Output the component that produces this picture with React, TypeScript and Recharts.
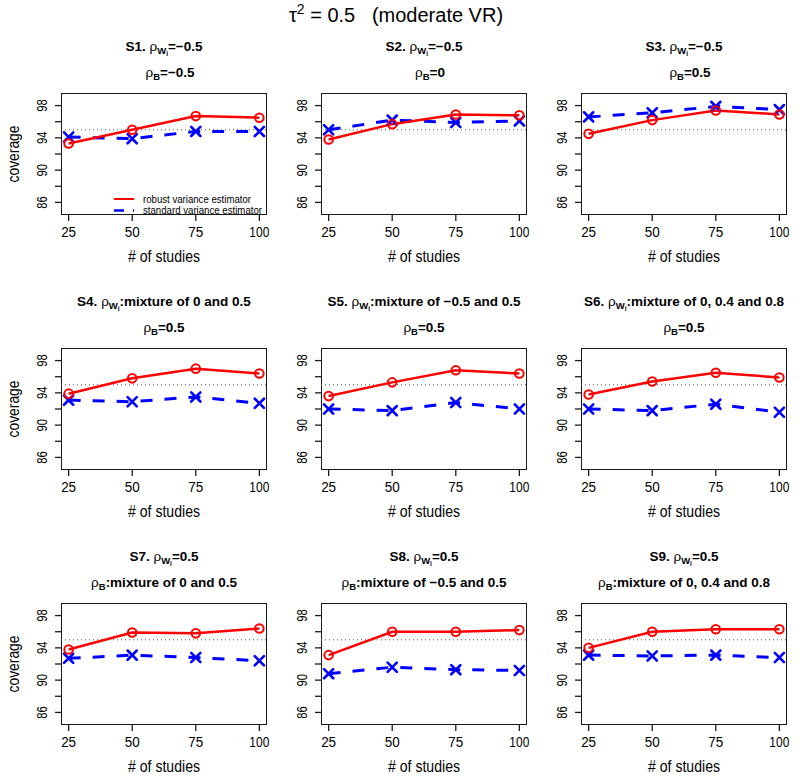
import React from 'react';
import { LineChart, Line, XAxis, YAxis, ReferenceLine } from 'recharts';

// x values (number of studies) and y tick marks
const studies = [25, 50, 75, 100];
const yTicks = [86, 88, 90, 92, 94, 96, 98];
const yLabels = [86, 90, 94, 98];
const nominal = 95;

// coverage (%), one pair of arrays per scenario
const robustS1 = [93.3, 95.0, 96.7, 96.5];
const standardS1 = [94.1, 93.9, 94.8, 94.8];
const robustS2 = [93.8, 95.7, 96.9, 96.8];
const standardS2 = [95.0, 96.2, 95.9, 96.1];
const robustS3 = [94.5, 96.2, 97.4, 96.9];
const standardS3 = [96.6, 97.1, 97.9, 97.5];
const robustS4 = [93.9, 95.8, 97.0, 96.4];
const standardS4 = [93.1, 92.9, 93.5, 92.7];
const robustS5 = [93.6, 95.3, 96.8, 96.4];
const standardS5 = [92.0, 91.8, 92.8, 92.0];
const robustS6 = [93.8, 95.4, 96.5, 95.9];
const standardS6 = [92.0, 91.8, 92.6, 91.6];
const robustS7 = [93.8, 95.9, 95.8, 96.4];
const standardS7 = [92.7, 93.1, 92.8, 92.4];
const robustS8 = [93.1, 96.0, 96.0, 96.2];
const standardS8 = [90.8, 91.6, 91.3, 91.2];
const robustS9 = [94.0, 96.0, 96.3, 96.3];
const standardS9 = [93.1, 93.0, 93.1, 92.8];

// panel titles
const withinText = ['=−0.5', '=−0.5', '=−0.5', ':mixture of 0 and 0.5', ':mixture of −0.5 and 0.5',
  ':mixture of 0, 0.4 and 0.8', '=0.5', '=0.5', '=0.5'];
const betweenText = ['=−0.5', '=0', '=0.5', '=0.5', '=0.5', '=0.5', ':mixture of 0 and 0.5',
  ':mixture of −0.5 and 0.5', ':mixture of 0, 0.4 and 0.8'];

const robustAll = [robustS1, robustS2, robustS3, robustS4, robustS5, robustS6, robustS7, robustS8, robustS9];
const standardAll = [standardS1, standardS2, standardS3, standardS4, standardS5, standardS6, standardS7, standardS8, standardS9];

const COL_LEFT = [61, 321, 581];
const ROW_TOP = [93, 348, 603];
const PW = 206;
const PH = 122;
const X_DOMAIN = [22, 103];
const Y_DOMAIN = [84.44, 99.56];
const TICK = 6;

const SANS = '"Liberation Sans", Arial, Helvetica, sans-serif';
const RED = '#ff0000';
const BLUE = '#0000ff';
const INK = '#1a1a1a';

// x tick: mark + label (x, y is the outer end of the tick)
const XTick = (props: any) => {
  const { x, y, payload } = props;
  const s = String(payload.value);
  return (
    <g>
      <path d={`M${x},${y - TICK}V${y}`} stroke={INK} strokeWidth={1.3} />
      <text x={x} y={y + 16} textAnchor="middle" fontFamily={SANS} fontSize={15} fill="#000"
        textLength={s.length > 2 ? 20 : 15} lengthAdjust="spacingAndGlyphs">
        {s}
      </text>
    </g>
  );
};

// y tick: mark for every tick, rotated label for every other one
const YTick = (props: any) => {
  const { x, y, payload } = props;
  return (
    <g>
      <path d={`M${x},${y}H${x + TICK}`} stroke={INK} strokeWidth={1.3} />
      {yLabels.includes(payload.value) && (
        <g transform={`translate(${x - 8}, ${y}) rotate(-90)`}>
          <text x={0} y={0} textAnchor="middle" fontFamily={SANS} fontSize={15} fill="#000"
            textLength={12.5} lengthAdjust="spacingAndGlyphs">
            {payload.value}
          </text>
        </g>
      )}
    </g>
  );
};

const CircleDot = (props: any) => {
  const { cx, cy, index } = props;
  if (cx == null || cy == null) return <g key={index} />;
  return <circle key={index} cx={cx} cy={cy} r={4.3} fill="none" stroke={RED} strokeWidth={2} />;
};

const CrossDot = (props: any) => {
  const { cx, cy, index } = props;
  if (cx == null || cy == null) return <g key={index} />;
  const s = 4.6;
  return (
    <g key={index} stroke={BLUE} strokeWidth={2.6} strokeLinecap="round">
      <line x1={cx - s} y1={cy - s} x2={cx + s} y2={cy + s} />
      <line x1={cx - s} y1={cy + s} x2={cx + s} y2={cy - s} />
    </g>
  );
};

function Panel({ idx }: { idx: number }) {
  const col = idx % 3;
  const row = Math.floor(idx / 3);
  const left = COL_LEFT[col];
  const top = ROW_TOP[row];
  const data = studies.map((s, i) => ({ studies: s, robust: robustAll[idx][i], standard: standardAll[idx][i] }));
  return (
    <div style={{ position: 'absolute', left: left - 45, top: top - 10 }}>
      {/* plot frame */}
      <div style={{ position: 'absolute', left: 45 - 0.5, top: 10 - 0.5, width: PW, height: PH,
        border: `1.5px solid ${INK}`, boxSizing: 'border-box', pointerEvents: 'none' }} />
      <LineChart width={45 + PW + 15} height={10 + PH + 40} data={data}
        margin={{ top: 10, right: 15, left: 0, bottom: 0 }} style={{ overflow: 'visible' }}>
        <XAxis type="number" dataKey="studies" domain={X_DOMAIN} ticks={studies} allowDataOverflow
          axisLine={false} tickSize={TICK} tickMargin={0} tickLine={false} tick={<XTick />}
          height={40} interval={0} />
        <YAxis type="number" domain={Y_DOMAIN} ticks={yTicks} allowDataOverflow axisLine={false}
          tickSize={TICK} tickMargin={0} tickLine={false} tick={<YTick />} width={45} interval={0} />
        <ReferenceLine y={nominal} stroke="#555" strokeWidth={1} strokeDasharray="1 3" />
        <Line type="linear" dataKey="standard" stroke={BLUE} strokeWidth={3} strokeDasharray="12 12"
          dot={CrossDot} activeDot={false} isAnimationActive={false} />
        <Line type="linear" dataKey="robust" stroke={RED} strokeWidth={2.5}
          dot={CircleDot} activeDot={false} isAnimationActive={false} />
      </LineChart>
    </div>
  );
}

function Titles() {
  const items: React.ReactNode[] = [];
  for (let idx = 0; idx < 9; idx++) {
    const col = idx % 3;
    const row = Math.floor(idx / 3);
    const left = COL_LEFT[col];
    const cx = left + PW / 2;
    const top = ROW_TOP[row];
    items.push(
      <text key={`a${idx}`} x={cx} y={top - 42} textAnchor="middle" fontFamily={SANS} fontSize={13.5} fontWeight="bold" fill="#000">
        {`S${idx + 1}. `}
        <tspan fontWeight="normal">ρ</tspan>
        <tspan dy={3} fontSize={9.5}>W</tspan>
        <tspan dy={2} fontSize={6.5}>i</tspan>
        <tspan dy={-5}>{withinText[idx]}</tspan>
      </text>
    );
    items.push(
      <text key={`b${idx}`} x={cx + (row === 0 ? 6 : 0)} y={top - 16} textAnchor="middle" fontFamily={SANS} fontSize={13.5} fontWeight="bold" fill="#000">
        <tspan fontWeight="normal">ρ</tspan>
        <tspan dy={3} fontSize={9.5}>B</tspan>
        <tspan dy={-3}>{betweenText[idx]}</tspan>
      </text>
    );
    items.push(
      <text key={`x${idx}`} x={cx} y={top + PH + 47} textAnchor="middle" fontFamily={SANS} fontSize={16} fill="#000"
        textLength={72} lengthAdjust="spacingAndGlyphs">
        # of studies
      </text>
    );
    if (col === 0) {
      const cy = top + PH / 2;
      items.push(
        <g key={`y${idx}`} transform={`translate(19, ${cy}) rotate(-90)`}>
          <text x={0} y={0} textAnchor="middle" fontFamily={SANS} fontSize={16} fill="#000"
            textLength={57} lengthAdjust="spacingAndGlyphs">
            coverage
          </text>
        </g>
      );
    }
  }
  return (
    <svg width={800} height={780} style={{ position: 'absolute', left: 0, top: 0, pointerEvents: 'none' }}>
      <text x={396} y={22} textAnchor="middle" fontFamily={SANS} fontSize={20} fill="#000" style={{ whiteSpace: 'pre' }}>
        τ<tspan dy={-8} fontSize={14}>2</tspan><tspan dy={8}>{' = 0.5   (moderate VR)'}</tspan>
      </text>
      {items}
      {/* legend of panel S1 */}
      <line x1={114} y1={199} x2={134} y2={199} stroke={RED} strokeWidth={2} />
      <text x={143} y={202.5} fontFamily={SANS} fontSize={11} fill="#000" textLength={108} lengthAdjust="spacingAndGlyphs">
        robust variance estimator
      </text>
      <line x1={114} y1={210.5} x2={134} y2={210.5} stroke={BLUE} strokeWidth={2.5} strokeDasharray="10 9 2 9" />
      <text x={143} y={214} fontFamily={SANS} fontSize={11} fill="#000" textLength={119} lengthAdjust="spacingAndGlyphs">
        standard variance estimator
      </text>
    </svg>
  );
}

export default function App() {
  return (
    <div style={{ position: 'absolute', left: 0, top: 0, width: 800, height: 780, background: '#fff' }}>
      {robustAll.map((_, i) => <Panel key={i} idx={i} />)}
      <Titles />
    </div>
  );
}
